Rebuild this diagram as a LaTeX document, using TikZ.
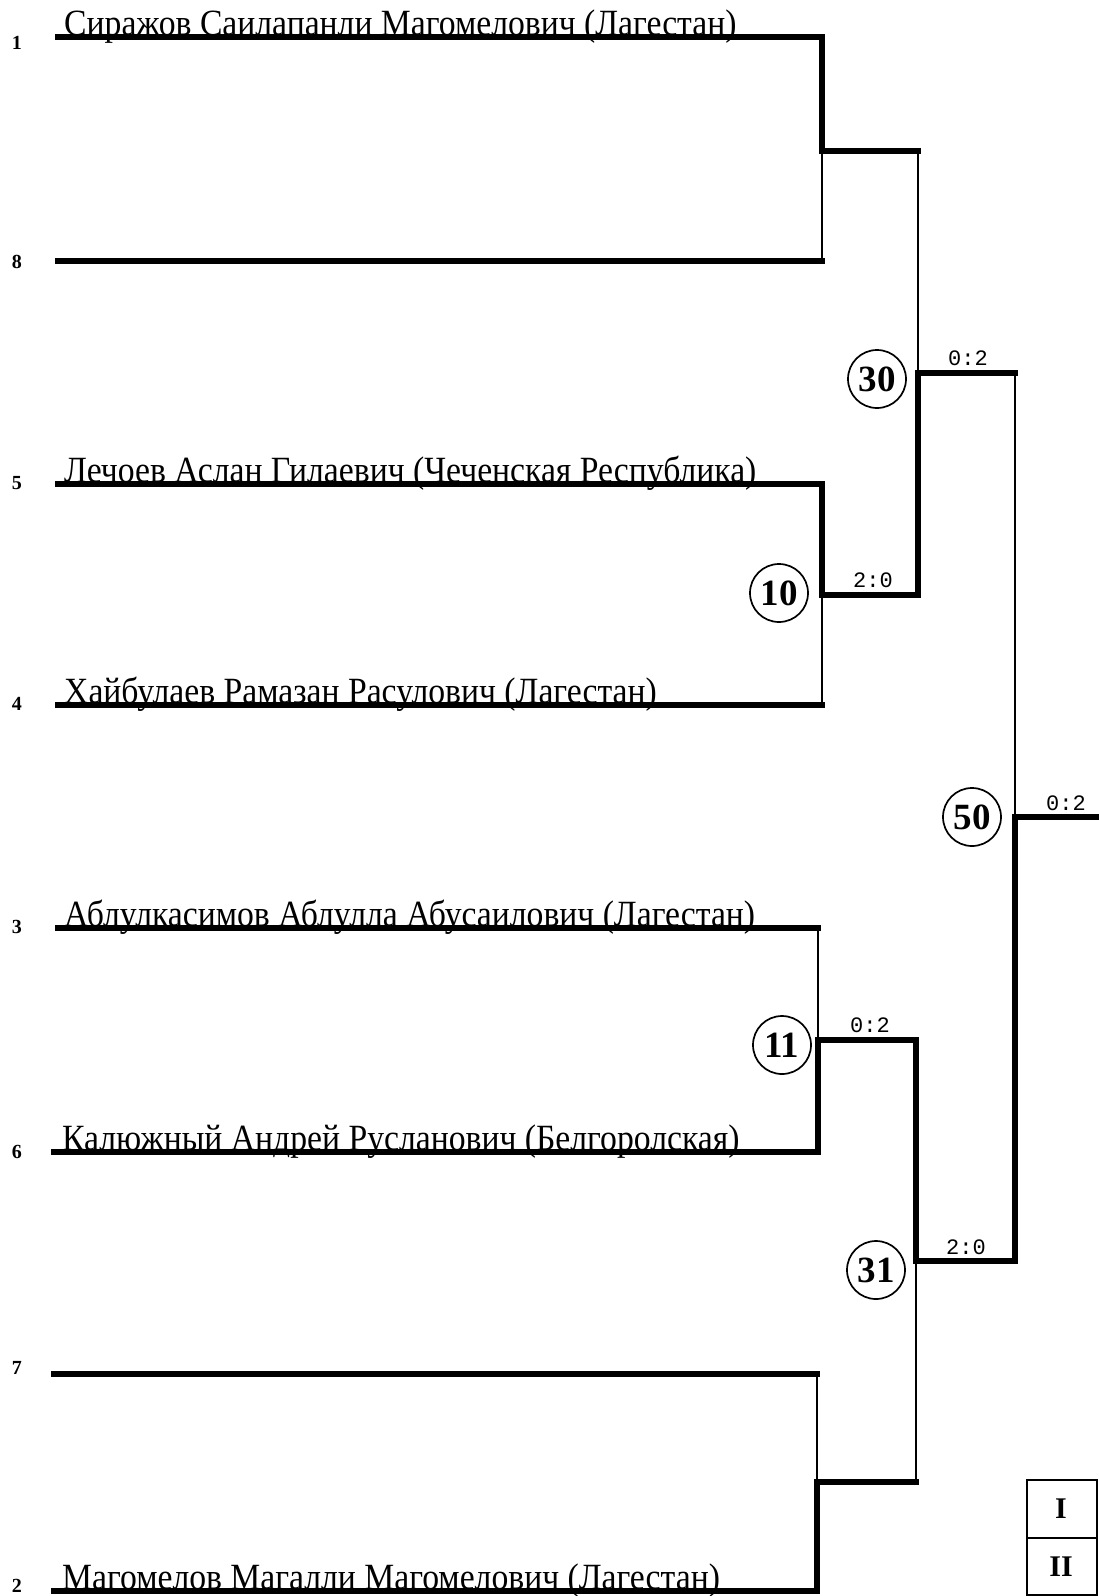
\documentclass[tikz,border=0pt]{standalone}
\usepackage{fontspec}
\setmainfont{Liberation Serif}
\newfontfamily\namefont[FakeStretch=0.91]{Liberation Serif}
\newfontfamily\scorefont{Liberation Mono}
\begin{document}
\begin{tikzpicture}[x=1pt,y=-1pt,
  thickln/.style={line width=5.5pt,line join=miter,line cap=rect},
  thinln/.style={line width=1.7pt},
  pname/.style={anchor=base west,inner sep=0pt,font=\namefont\fontsize{37}{37}\selectfont},
  seednum/.style={anchor=center,inner sep=0pt,font=\bfseries\fontsize{20}{20}\selectfont},
  bout/.style={circle,draw,line width=1.7pt,minimum size=58pt,inner sep=0pt,font=\bfseries\fontsize{37}{37}\selectfont},
  scoretxt/.style={anchor=base,inner sep=0pt,font=\scorefont\fontsize{22}{22}\selectfont},
  placetxt/.style={anchor=center,inner sep=0pt,font=\bfseries\fontsize{30}{30}\selectfont}]
\useasboundingbox (0,0) rectangle (1099,1596);
\fill[white] (0,0) rectangle (1099,1596);
% row line ends
\coordinate (aL) at (58,37);   \coordinate (aR) at (822,37);
\coordinate (bL) at (58,261);  \coordinate (bR) at (822,261);
\coordinate (cL) at (58,484);  \coordinate (cR) at (822,484);
\coordinate (dL) at (58,705);  \coordinate (dR) at (822,705);
\coordinate (eL) at (58,928);  \coordinate (eR) at (818,928);
\coordinate (fL) at (54,1152); \coordinate (fR) at (818,1152);
\coordinate (gL) at (54,1374); \coordinate (gR) at (817,1374);
\coordinate (hL) at (54,1591); \coordinate (hR) at (817,1591);
% junctions
\coordinate (jA) at (822,151);  \coordinate (jAo) at (918,151);
\coordinate (jB) at (822,595);  \coordinate (jBo) at (918,595);
\coordinate (jC) at (818,1040); \coordinate (jCo) at (916,1040);
\coordinate (jD) at (817,1482); \coordinate (jDo) at (916,1482);
\coordinate (jE) at (918,373);  \coordinate (jEo) at (1015,373);
\coordinate (jF) at (916,1261); \coordinate (jFo) at (1015,1261);
\coordinate (jG) at (1015,817); \coordinate (jGo) at (1099,817);
% seeds
\node[seednum] (s1) at (17,43) {1};
\node[seednum] (s8) at (17,262) {8};
\node[seednum] (s5) at (17,483) {5};
\node[seednum] (s4) at (17,704) {4};
\node[seednum] (s3) at (17,927) {3};
\node[seednum] (s6) at (17,1152) {6};
\node[seednum] (s7) at (17,1368) {7};
\node[seednum] (s2) at (17,1586) {2};
% names
\node[pname] (n1) at (64,35) {Сиражов Саилапанли Магомелович (Лагестан)};
\node[pname] (n5) at (64,482) {Лечоев Аслан Гилаевич (Чеченская Республика)};
\node[pname] (n4) at (64,703) {Хайбулаев Рамазан Расулович (Лагестан)};
\node[pname] (n3) at (64,926) {Аблулкасимов Аблулла Абусаилович (Лагестан)};
\node[pname] (n6) at (62,1150) {Калюжный Андрей Русланович (Белгоролская)};
\node[pname] (n2) at (62,1589) {Магомелов Магалли Магомелович (Лагестан)};
% loser (thin) segments
\draw[thinln] (bR) -- (jA);
\draw[thinln] (dR) -- (jB);
\draw[thinln] (eR) -- (jC);
\draw[thinln] (gR) -- (jD);
\draw[thinln] (jAo) -- (jE);
\draw[thinln] (jDo) -- (jF);
\draw[thinln] (jEo) -- (jG);
% thick lines
\draw[thickln] (aL) -- (aR) -- (jA) -- (jAo);
\draw[thickln] (bL) -- (bR);
\draw[thickln] (cL) -- (cR) -- (jB) -- (jBo) -- (jE) -- (jEo);
\draw[thickln] (dL) -- (dR);
\draw[thickln] (eL) -- (eR);
\draw[thickln] (fL) -- (fR) -- (jC) -- (jCo) -- (jF) -- (jFo) -- (jG) -- (jGo);
\draw[thickln] (gL) -- (gR);
\draw[thickln] (hL) -- (hR) -- (jD) -- (jDo);
% bout circles
\node[bout] (m30) at (877,379) {30};
\node[bout] (m10) at (779,593) {10};
\node[bout] (m50) at (972,817) {50};
\node[bout] (m11) at (782,1045) {11};
\node[bout] (m31) at (876,1270) {31};
% scores
\node[scoretxt] (sc30) at (968,365) {0:2};
\node[scoretxt] (sc10) at (873,587) {2:0};
\node[scoretxt] (sc50) at (1066,810) {0:2};
\node[scoretxt] (sc11) at (870,1032) {0:2};
\node[scoretxt] (sc31) at (966,1254) {2:0};
% places table
\draw[line width=2.6pt] (1027,1480) rectangle (1097,1595);
\draw[line width=2.6pt] (1027,1538) -- (1097,1538);
\node[placetxt] (p1) at (1061,1509) {I};
\node[placetxt] (p2) at (1061,1567) {II};
\end{tikzpicture}
\end{document}
